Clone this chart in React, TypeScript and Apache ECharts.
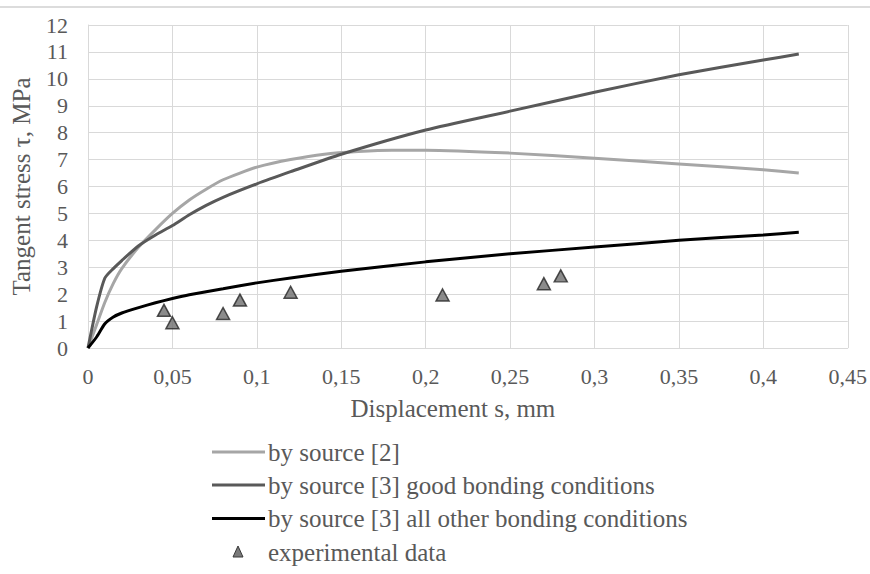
import React, { useEffect, useRef } from "react";
import * as echarts from "echarts";

const seriesNames = [
  "by source [2]",
  "by source [3] good bonding conditions",
  "by source [3] all other bonding conditions",
  "experimental data",
];
const seriesColors = ["#a6a6a6", "#595959", "#000000", "#6e6e6e"];

const src2X = [0, 0.005, 0.01, 0.015, 0.02, 0.03, 0.04, 0.05, 0.06, 0.07, 0.08, 0.09, 0.1, 0.12, 0.14, 0.16, 0.18, 0.2, 0.25, 0.3, 0.35, 0.4, 0.421];
const src2Y = [0, 0.85, 1.7, 2.4, 2.95, 3.75, 4.4, 5.0, 5.5, 5.9, 6.25, 6.5, 6.72, 7.0, 7.2, 7.3, 7.35, 7.35, 7.24, 7.05, 6.84, 6.62, 6.5];

const goodX = [0, 0.005, 0.01, 0.015, 0.02, 0.03, 0.04, 0.05, 0.06, 0.07, 0.08, 0.1, 0.12, 0.15, 0.2, 0.25, 0.3, 0.35, 0.4, 0.421];
const goodY = [0, 1.5, 2.6, 2.95, 3.25, 3.8, 4.2, 4.55, 4.95, 5.3, 5.6, 6.1, 6.55, 7.2, 8.1, 8.8, 9.5, 10.15, 10.7, 10.92];

const otherX = [0, 0.005, 0.01, 0.015, 0.02, 0.03, 0.04, 0.05, 0.06, 0.08, 0.1, 0.12, 0.15, 0.2, 0.25, 0.3, 0.35, 0.4, 0.421];
const otherY = [0, 0.4, 0.9, 1.15, 1.3, 1.5, 1.68, 1.84, 1.98, 2.2, 2.42, 2.6, 2.85, 3.2, 3.5, 3.75, 4.0, 4.2, 4.3];

const expX = [0.045, 0.05, 0.08, 0.09, 0.12, 0.21, 0.27, 0.28];
const expY = [1.4, 0.94, 1.28, 1.78, 2.07, 1.97, 2.39, 2.68];

const xAxisTitle = "Displacement s, mm";
const yAxisTitle = "Tangent stress τ, MPa";

const pairs = (xs: number[], ys: number[]) => xs.map((x, i) => [x, ys[i]]);

const FONT = "Liberation Serif";
const TXT = "#595959";
const GRID = "#d9d9d9";

function legendGraphics() {
  const rowY = [452, 485, 518.5, 552];
  const items: any[] = [];
  seriesNames.forEach((name, i) => {
    const y = rowY[i];
    if (i < 3) {
      items.push({
        type: "line",
        shape: { x1: 212, y1: y, x2: 265, y2: y },
        style: { stroke: seriesColors[i], lineWidth: 3 },
        silent: true,
      });
    } else {
      items.push({
        type: "polygon",
        shape: { points: [[238, y - 6], [243, y + 5], [233, y + 5]] },
        style: { fill: "#7a7a7a", stroke: "#3a3a3a", lineWidth: 1 },
        silent: true,
      });
    }
    items.push({
      type: "text",
      x: 268,
      y,
      style: {
        text: name,
        fontFamily: FONT,
        fontSize: 25,
        fill: TXT,
        verticalAlign: "middle",
        align: "left",
      },
      silent: true,
    });
  });
  return items;
}

export default function App() {
  const ref = useRef<HTMLDivElement>(null);
  useEffect(() => {
    if (!ref.current) return;
    const chart = echarts.init(ref.current, undefined, { renderer: "svg" });
    chart.setOption({
      animation: false,
      backgroundColor: "#ffffff",
      textStyle: { fontFamily: FONT },
      grid: { left: 88, right: 19, top: 25, bottom: 226, containLabel: false },
      graphic: [
        {
          type: "rect",
          shape: { x: 0, y: 6, width: 870, height: 2 },
          style: { fill: "#dcdcdc" },
          silent: true,
        },
        ...legendGraphics(),
      ],
      xAxis: {
        type: "value",
        min: 0,
        max: 0.45,
        interval: 0.05,
        name: xAxisTitle,
        nameLocation: "middle",
        nameGap: 48,
        nameTextStyle: { fontFamily: FONT, fontSize: 25, color: TXT, padding: [0, 30, 0, 0] },
        axisLine: { show: true, lineStyle: { color: GRID, width: 1 } },
        axisTick: { show: false },
        axisLabel: {
          margin: 17,
          fontFamily: FONT,
          fontSize: 22,
          color: TXT,
          formatter: (v: number) => String(Math.round(v * 1000) / 1000).replace(".", ","),
        },
        splitLine: { show: true, lineStyle: { color: GRID, width: 1 } },
      },
      yAxis: {
        type: "value",
        min: 0,
        max: 12,
        interval: 1,
        name: yAxisTitle,
        nameLocation: "middle",
        nameGap: 54,
        nameTextStyle: { fontFamily: FONT, fontSize: 25, color: TXT },
        axisLine: { show: true, lineStyle: { color: GRID, width: 1 } },
        axisTick: { show: false },
        axisLabel: { margin: 20, fontFamily: FONT, fontSize: 22, color: TXT },
        splitLine: { show: true, lineStyle: { color: GRID, width: 1 } },
      },
      series: [
        {
          name: seriesNames[0],
          type: "line",
          data: pairs(src2X, src2Y),
          showSymbol: false,
          symbol: "none",
          smooth: 0.2,
          lineStyle: { color: seriesColors[0], width: 3 },
          itemStyle: { color: seriesColors[0] },
          z: 2,
        },
        {
          name: seriesNames[1],
          type: "line",
          data: pairs(goodX, goodY),
          showSymbol: false,
          symbol: "none",
          smooth: 0.2,
          lineStyle: { color: seriesColors[1], width: 3 },
          itemStyle: { color: seriesColors[1] },
          z: 3,
        },
        {
          name: seriesNames[2],
          type: "line",
          data: pairs(otherX, otherY),
          showSymbol: false,
          symbol: "none",
          smooth: 0.2,
          lineStyle: { color: seriesColors[2], width: 3 },
          itemStyle: { color: seriesColors[2] },
          z: 4,
        },
        {
          name: seriesNames[3],
          type: "scatter",
          data: pairs(expX, expY),
          symbol: "triangle",
          symbolSize: [13, 12],
          itemStyle: { color: seriesColors[3], borderColor: "#262626", borderWidth: 1.5 },
          z: 5,
        },
      ],
    });
    return () => chart.dispose();
  }, []);
  return (
    <div
      ref={ref}
      style={{ position: "fixed", left: 0, top: 0, width: 870, height: 574, background: "#fff" }}
    />
  );
}
